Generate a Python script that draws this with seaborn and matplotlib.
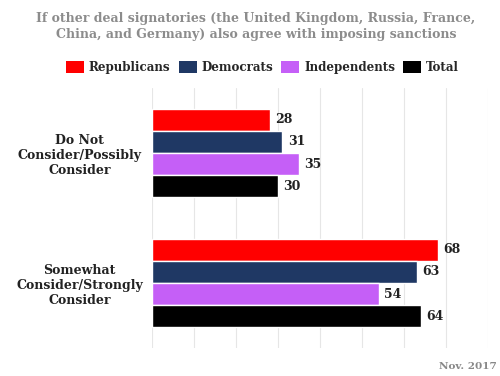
import matplotlib
matplotlib.use("Agg")
import matplotlib.pyplot as plt
from matplotlib.patches import Patch
import pandas as pd
import seaborn as sns

categories = ["Do Not\nConsider/Possibly\nConsider", "Somewhat\nConsider/Strongly\nConsider"]
groups = ["Republicans", "Democrats", "Independents", "Total"]
republicans = [28, 68]
democrats = [31, 63]
independents = [35, 54]
total = [30, 64]
colors = ["#ff0000", "#1f3864", "#c55ff7", "#000000"]

df = pd.DataFrame({
    "category": categories * 4,
    "group": [g for g in groups for _ in categories],
    "value": republicans + democrats + independents + total,
})

sns.set_theme(style="white")
plt.rcParams["font.family"] = ["DejaVu Serif"]

fig = plt.figure(figsize=(5, 3.76), dpi=100)
ax = fig.add_axes([0.304, 0.0745, 0.672, 0.6915])

sns.barplot(data=df, y="category", x="value", hue="group", hue_order=groups,
            palette=colors, orient="h", width=0.68, gap=0, saturation=1,
            legend=False, ax=ax)

for cont in ax.containers:
    ax.bar_label(cont, padding=4, fontsize=9, fontweight="bold", color="#222222")

ax.set_xlim(0, 80)
ax.set_ylim(1.5, -0.5)
ax.set_xticks(range(0, 81, 10))
ax.set_xticklabels([])
ax.tick_params(axis="both", length=0)
ax.xaxis.grid(True, color="#e6e6e6", linewidth=0.8)
ax.set_axisbelow(True)
for s in ax.spines.values():
    s.set_visible(False)
ax.set_xlabel("")
ax.set_ylabel("")
for lbl in ax.get_yticklabels():
    lbl.set_fontweight("bold")
    lbl.set_fontsize(9)
    lbl.set_color("#222222")
    lbl.set_horizontalalignment("center")
ax.tick_params(axis="y", pad=52)

fig.text(0.512, 0.93,
         "If other deal signatories (the United Kingdom, Russia, France,\nChina, and Germany) also agree with imposing sanctions",
         ha="center", va="center", fontsize=9, fontweight="bold", color="#8c8c8c",
         linespacing=1.3)

handles = [Patch(facecolor=c, edgecolor="none") for c in colors]
fig.legend(handles, groups, loc="center", bbox_to_anchor=(0.525, 0.82), ncol=4,
           frameon=False, prop={"weight": "bold", "size": 8.6},
           handlelength=1.5, handleheight=1.2, handletextpad=0.4, columnspacing=0.7)

fig.text(0.994, 0.024, "Nov. 2017", ha="right", va="center", fontsize=7.5,
         fontweight="bold", color="#888888")

fig.savefig("out.png", dpi=100)
